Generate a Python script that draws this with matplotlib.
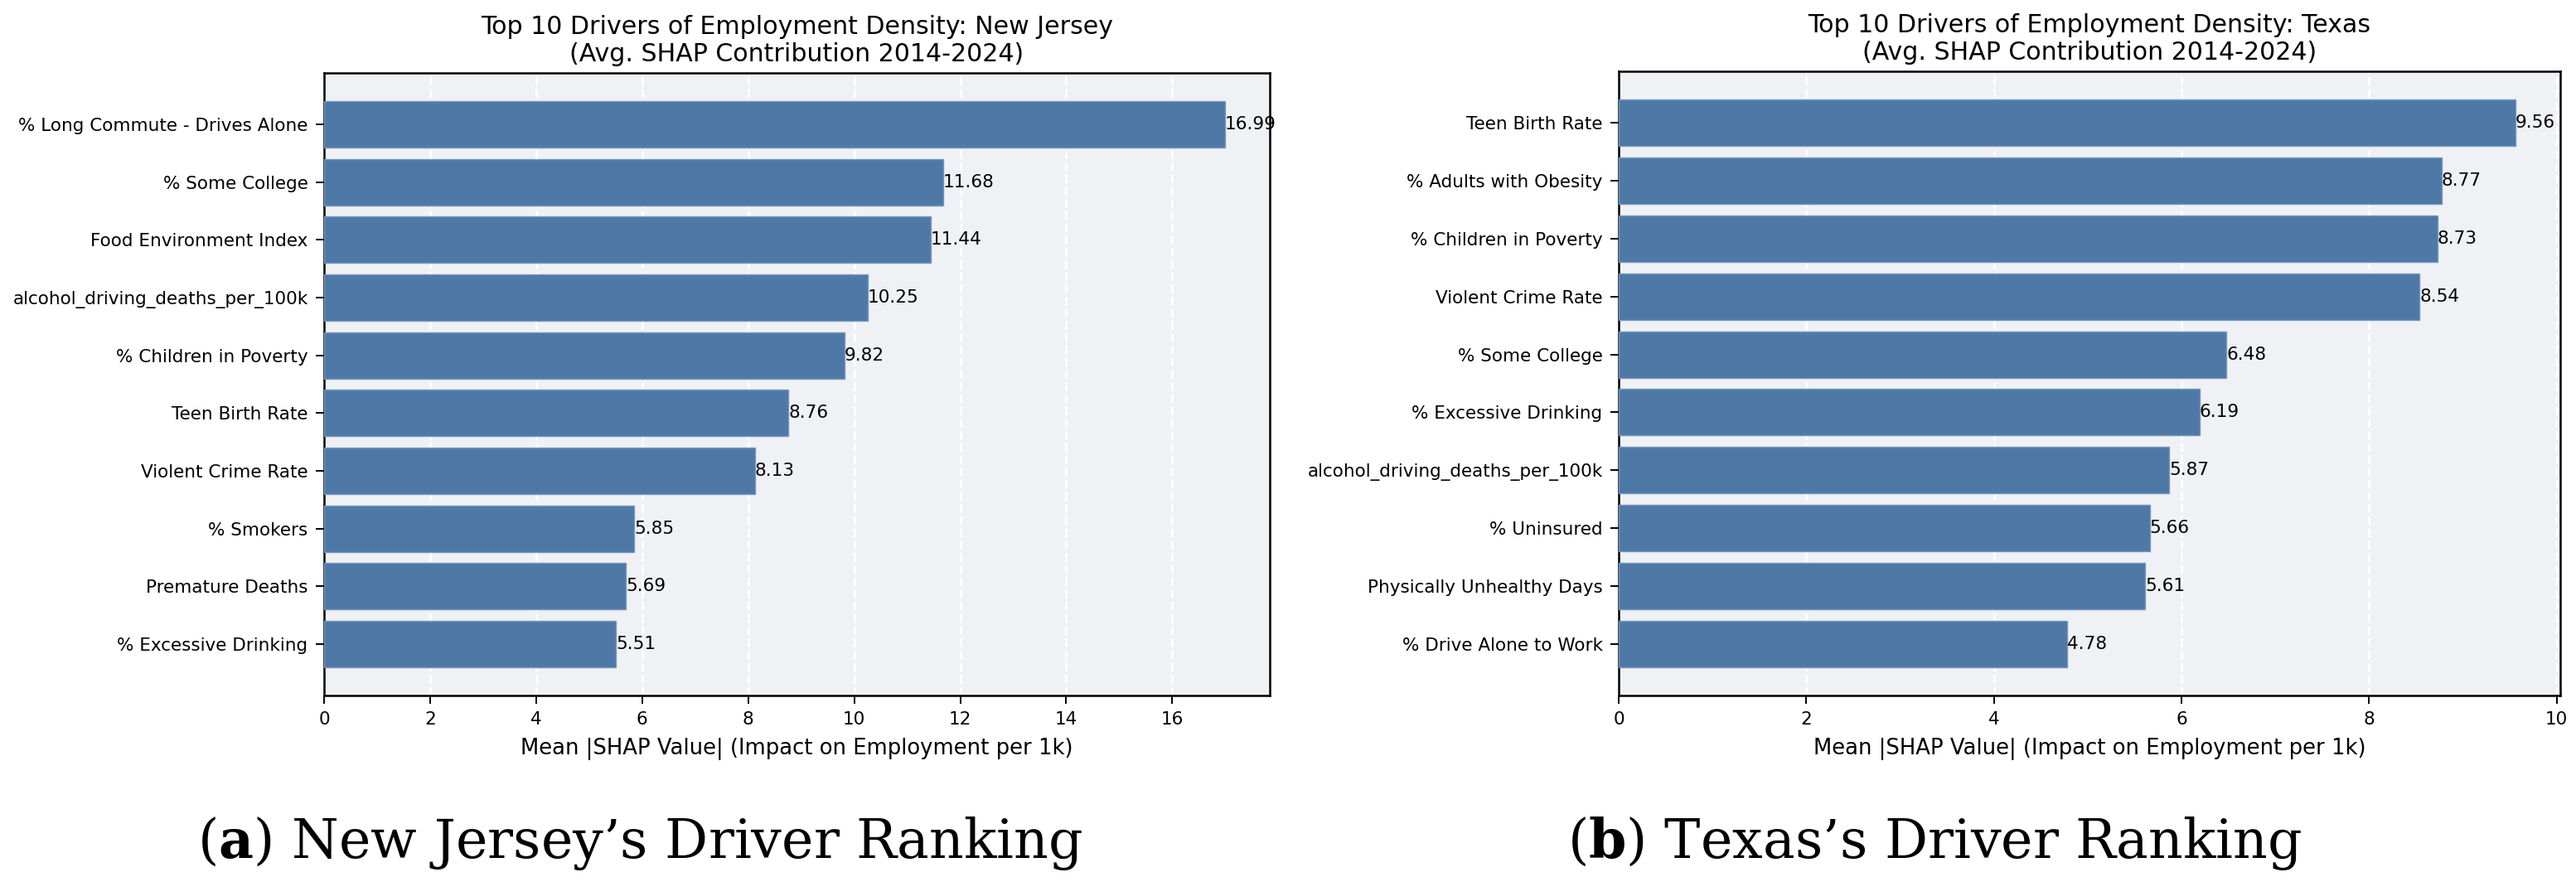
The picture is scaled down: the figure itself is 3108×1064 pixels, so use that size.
import matplotlib
matplotlib.use("Agg")
import matplotlib.pyplot as plt

nj_features = ["% Long Commute - Drives Alone", "% Some College", "Food Environment Index",
               "alcohol_driving_deaths_per_100k", "% Children in Poverty", "Teen Birth Rate",
               "Violent Crime Rate", "% Smokers", "Premature Deaths", "% Excessive Drinking"]
nj_values = [16.99, 11.68, 11.44, 10.25, 9.82, 8.76, 8.13, 5.85, 5.69, 5.51]

tx_features = ["Teen Birth Rate", "% Adults with Obesity", "% Children in Poverty",
               "Violent Crime Rate", "% Some College", "% Excessive Drinking",
               "alcohol_driving_deaths_per_100k", "% Uninsured", "Physically Unhealthy Days",
               "% Drive Alone to Work"]
tx_values = [9.56, 8.77, 8.73, 8.54, 6.48, 6.19, 5.87, 5.66, 5.61, 4.78]

titles = ["Top 10 Drivers of Employment Density: New Jersey\n(Avg. SHAP Contribution 2014-2024)",
          "Top 10 Drivers of Employment Density: Texas\n(Avg. SHAP Contribution 2014-2024)"]
captions = [("a", " New Jersey\u2019s Driver Ranking"), ("b", " Texas\u2019s Driver Ranking")]
xlabel = "Mean |SHAP Value| (Impact on Employment per 1k)"

W, H = 3108, 1064
dpi = 200
fig = plt.figure(figsize=(W / dpi, H / dpi), dpi=dpi)

bar_color = "#4e79a7"
bg = "#f0f1f5"

rects = [(391, 88, 1532, 839), (1953, 86, 3089, 839)]
data = [(nj_features, nj_values), (tx_features, tx_values)]
cap_x = [772 / W, 2334 / W]

for i, ((feats, vals), (x0, y0, x1, y1)) in enumerate(zip(data, rects)):
    ax = fig.add_axes([x0 / W, 1 - y1 / H, (x1 - x0) / W, (y1 - y0) / H])
    ax.set_facecolor(bg)
    ypos = list(range(len(feats)))
    bars = ax.barh(ypos, vals, height=0.8, color=bar_color, edgecolor="#7396c0",
                   linewidth=0.5, zorder=3)
    ax.set_yticks(ypos)
    ax.set_yticklabels(feats)
    ax.invert_yaxis()
    ax.grid(axis="x", color="white", linestyle="--", linewidth=1.0, zorder=0)
    ax.set_axisbelow(True)
    for b, v in zip(bars, vals):
        ax.text(b.get_width(), b.get_y() + b.get_height() / 2, f"{v:.2f}",
                va="center", ha="left", fontsize=7.8, zorder=4)
    ax.set_title(titles[i], fontsize=10.8, pad=5)
    ax.set_xlabel(xlabel, fontsize=9.3, labelpad=4)
    ax.tick_params(axis="both", labelsize=7.75, length=3.5, width=0.7)
    for s in ax.spines.values():
        s.set_color("black")
        s.set_linewidth(0.9)
    letter, rest = captions[i]
    fig.text(cap_x[i], 1 - 1035 / H, "(" + "$\\mathbf{" + letter + "}$" + ")" + rest,
             ha="center", va="baseline", fontsize=23.4, family="DejaVu Serif",
             math_fontfamily="dejavuserif")

fig.savefig("out.png", dpi=dpi)
